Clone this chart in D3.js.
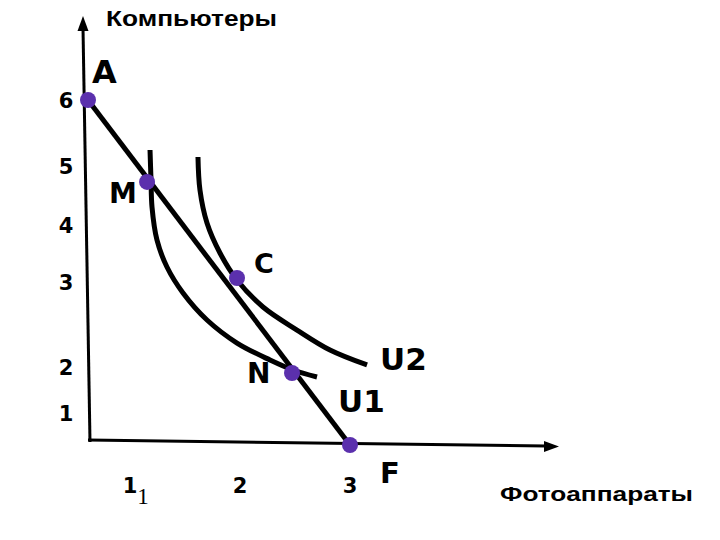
<!DOCTYPE html>
<html><head><meta charset="utf-8">
<script src="https://cdn.jsdelivr.net/npm/d3@7"></script>
<style>html,body{margin:0;padding:0;background:#fff}</style>
</head><body>
<script>
// ---- data ----
const yTicks = [1, 2, 3, 4, 5, 6];
const xTicks = [1, 2, 3];
const yTitle = "Компьютеры";
const xTitle = "Фотоаппараты";
// points on the chart (photo cameras, computers)
const pointNames = ["A", "M", "C", "N", "F"];
const pointX = [0, 1.155, 1.973, 2.473, 3];
const pointY = [6, 4.73, 3.07, 1.87, 0];
// budget line A–F
const budgetX = [0, 3];
const budgetY = [6, 0];
// indifference curves
const u1X = [1.182, 1.191, 1.2, 1.245, 1.336, 1.482, 1.7, 1.973, 2.273, 2.482, 2.7];
const u1Y = [5.242, 4.763, 4.305, 3.737, 3.263, 2.871, 2.553, 2.282, 2.082, 1.935, 1.783];
const u2X = [1.618, 1.636, 1.7, 1.818, 1.973, 2.209, 2.518, 2.818, 3.155];
const u2Y = [5.136, 4.593, 4.034, 3.509, 3.035, 2.706, 2.435, 2.2, 2.024];

const W = 720, H = 540;
const svg = d3.select("body").append("svg").attr("width", W).attr("height", H)
  .style("font-family", "'Liberation Sans', Arial, sans-serif");

// piecewise scales following the hand-drawn grid of the original
const x = d3.scaleLinear().domain([0, 1, 2, 3, 4]).range([88, 130, 240, 350, 460]);
const y = d3.scaleLinear().domain([0, 1, 2, 3, 4, 5, 6]).range([445, 413, 367, 282, 225, 166, 100]);

// axes
svg.append("line").attr("x1", 90).attr("y1", 442).attr("x2", 83).attr("y2", 28)
  .attr("stroke", "#000").attr("stroke-width", 3);
svg.append("path").attr("d", "M83,16 L77.5,31 L88.5,31 Z").attr("fill", "#000");
svg.append("line").attr("x1", 88).attr("y1", 440).attr("x2", 546).attr("y2", 446)
  .attr("stroke", "#000").attr("stroke-width", 3);
svg.append("path").attr("d", "M559,446.5 L544,441 L544,452 Z").attr("fill", "#000");

const heavy = "'DejaVu Sans', 'Liberation Sans', sans-serif";
// tick labels
svg.selectAll(".yt").data(yTicks).enter().append("text")
  .attr("x", 66).attr("y", d => y(d)).attr("dy", "0.36em")
  .attr("text-anchor", "middle").attr("font-family", heavy)
  .attr("font-weight", "bold").attr("font-size", 21)
  .text(d => d);
svg.selectAll(".xt").data(xTicks).enter().append("text")
  .attr("x", d => x(d)).attr("y", 485).attr("dy", "0.36em")
  .attr("text-anchor", "middle").attr("font-family", heavy)
  .attr("font-weight", "bold").attr("font-size", 21)
  .text(d => d);
svg.append("text").attr("x", x(1) + 13).attr("y", 504)
  .attr("font-family", "'Liberation Serif', serif").attr("font-size", 23)
  .attr("text-anchor", "middle").text("1");

// titles
svg.append("text").attr("x", 106).attr("y", 26).attr("font-weight", "bold").attr("font-size", 22)
  .attr("textLength", 171).attr("lengthAdjust", "spacingAndGlyphs").text(yTitle);
svg.append("text").attr("x", 500).attr("y", 501).attr("font-weight", "bold").attr("font-size", 21)
  .attr("textLength", 193).attr("lengthAdjust", "spacingAndGlyphs").text(xTitle);

// budget line
const line = d3.line().x(d => x(d[0])).y(d => y(d[1]));
svg.append("path").datum(d3.zip(budgetX, budgetY)).attr("d", line)
  .attr("fill", "none").attr("stroke", "#000").attr("stroke-width", 5);

// indifference curves
const curve = d3.line().x(d => x(d[0])).y(d => y(d[1])).curve(d3.curveCatmullRom.alpha(0.5));
[[u1X, u1Y], [u2X, u2Y]].forEach(([xs, ys]) => {
  svg.append("path").datum(d3.zip(xs, ys)).attr("d", curve)
    .attr("fill", "none").attr("stroke", "#000").attr("stroke-width", 5).attr("stroke-linecap", "butt");
});

// points
const pts = d3.zip(pointNames, pointX, pointY);
svg.selectAll(".pt").data(pts).enter().append("circle")
  .attr("cx", d => x(d[1])).attr("cy", d => y(d[2])).attr("r", 8)
  .attr("fill", "#5b30ad");

// point labels
const lbl = (t, px, py, fs) => svg.append("text").attr("x", px).attr("y", py)
  .attr("font-family", heavy).attr("font-weight", "bold").attr("font-size", fs).text(t);
lbl("A", x(pointX[0]) + 4, y(pointY[0]) - 17, 32);
lbl("M", x(pointX[1]) - 38, y(pointY[1]) + 21, 28);
lbl("C", x(pointX[2]) + 17, y(pointY[2]) - 5, 27);
lbl("N", x(pointX[3]) - 45, y(pointY[3]) + 10, 28);
lbl("F", x(pointX[4]) + 30, y(pointY[4]) + 38, 29);
lbl("U2", x(u2X[u2X.length - 1]) + 13, y(u2Y[u2Y.length - 1]) + 5, 31);
lbl("U1", x(u1X[u1X.length - 1]) + 21, y(u1Y[u1Y.length - 1]) + 35, 31);
</script>
</body></html>
